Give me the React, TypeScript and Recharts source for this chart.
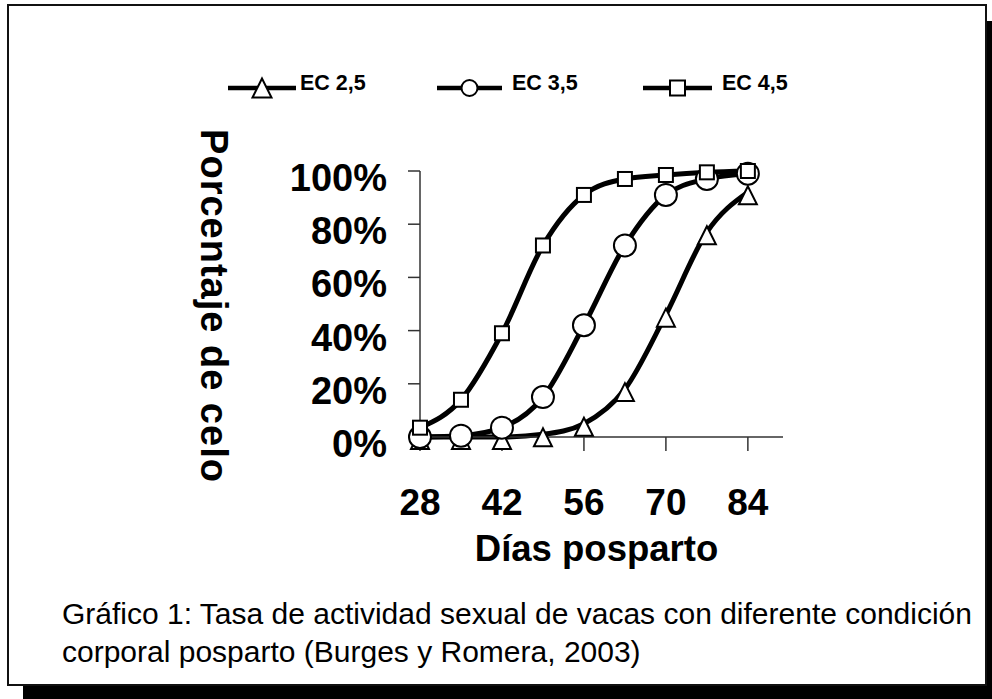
import React from "react";
import { LineChart, Line, XAxis, YAxis } from "recharts";

// días posparto
const days = [28, 35, 42, 49, 56, 63, 70, 77, 84];
// porcentaje de celo acumulado por condición corporal
const ec25 = [0, 0, 0, 1, 5, 18, 46, 77, 92];
const ec35 = [0, 0.5, 3.5, 15, 42, 72, 91, 97, 99];
const ec45 = [3.5, 14, 39, 72, 91, 97, 98.5, 99.5, 100];

const xTicks = [28, 42, 56, 70, 84];
const yTicks = [0, 20, 40, 60, 80, 100];

const series = [
  { key: "ec25", name: "EC 2,5", shape: "triangle" },
  { key: "ec35", name: "EC 3,5", shape: "circle" },
  { key: "ec45", name: "EC 4,5", shape: "square" },
];

const data = days.map((d, i) => ({
  day: d,
  ec25: ec25[i],
  ec35: ec35[i],
  ec45: ec45[i],
}));

const FONT = "'Liberation Sans', Arial, Helvetica, sans-serif";

function Marker({ shape, cx, cy, size, centroid }: any) {
  if (cx == null || cy == null) return null;
  if (shape === "circle") {
    return <circle cx={cx} cy={cy} r={size / 2} fill="#fff" stroke="#000" strokeWidth={2} />;
  }
  if (shape === "square") {
    return (
      <rect x={cx - size / 2} y={cy - size / 2} width={size} height={size} fill="#fff" stroke="#000" strokeWidth={2} />
    );
  }
  const w = size;
  const h = size;
  const top = centroid ? cy - h / 3 : cy - h / 2;
  const bot = top + h;
  return (
    <polygon
      points={`${cx},${top} ${cx - w / 2},${bot} ${cx + w / 2},${bot}`}
      fill="#fff"
      stroke="#000"
      strokeWidth={2}
    />
  );
}

const markerSize: Record<string, number> = { triangle: 18, circle: 22, square: 14 };

const YTick = ({ x, y, payload }: any) => (
  <text x={x} y={y} dy={20} textAnchor="end" fontSize={38} fontWeight="bold" fontFamily={FONT} fill="#000">
    {payload.value}%
  </text>
);

const XTick = ({ x, y, payload }: any) => (
  <text x={x} y={y} textAnchor="middle" fontSize={37} fontWeight="bold" fontFamily={FONT} fill="#000">
    {payload.value}
  </text>
);

const XTitle = ({ viewBox }: any) => (
  <text
    x={viewBox.x + viewBox.width / 2 - 5}
    y={561}
    textAnchor="middle"
    fontSize={36.5}
    fontWeight="bold"
    fontFamily={FONT}
    fill="#000"
  >
    Días posparto
  </text>
);

const YTitle = () => (
  <text
    transform="translate(201,306) rotate(90)"
    textAnchor="middle"
    fontSize={38}
    fontWeight="bold"
    letterSpacing={1}
    fontFamily={FONT}
    fill="#000"
  >
    Porcentaje de celo
  </text>
);

function LegendRow() {
  const items = [
    { lineX: [228, 296], text: 300 },
    { lineX: [437, 502], text: 512 },
    { lineX: [643, 712], text: 722 },
  ];
  const legendSize: Record<string, number> = { triangle: 19, circle: 16, square: 15 };
  return (
    <svg width={992} height={120} style={{ position: "absolute", left: 0, top: 0 }}>
      {series.map((s, i) => {
        const it = items[i];
        const cx = (it.lineX[0] + it.lineX[1]) / 2;
        return (
          <g key={s.key}>
            <line x1={it.lineX[0]} x2={it.lineX[1]} y1={88} y2={88} stroke="#000" strokeWidth={4.5} />
            <Marker shape={s.shape} cx={cx} cy={88} size={legendSize[s.shape]} />
            <text x={it.text} y={90} fontSize={21.5} fontWeight="bold" fontFamily={FONT} fill="#000">
              {s.name}
            </text>
          </g>
        );
      })}
    </svg>
  );
}

export default function App() {
  return (
    <div style={{ position: "absolute", left: 0, top: 0, width: 992, height: 699, overflow: "hidden", background: "#fff" }}>
      {/* sombra */}
      <div style={{ position: "absolute", left: 23, top: 21, width: 980, height: 682, background: "#000" }} />
      {/* marco */}
      <div
        style={{
          position: "absolute",
          left: 7,
          top: 4,
          width: 980,
          height: 682,
          boxSizing: "border-box",
          border: "2.5px solid #111",
          background: "#fff",
        }}
      />
      <div style={{ position: "absolute", left: 0, top: 0 }}>
        <LineChart width={992} height={699} data={data} margin={{ top: 171, right: 209, bottom: 232, left: 360 }}>
          <XAxis
            dataKey="day"
            type="number"
            domain={[28, 90]}
            ticks={xTicks}
            interval={0}
            height={30}
            axisLine={{ stroke: "#333", strokeWidth: 1.5 }}
            tickLine={{ stroke: "#333", strokeWidth: 1.5 }}
            tickSize={14}
            tickMargin={64}
            tick={<XTick />}
            label={<XTitle />}
          />
          <YAxis
            type="number"
            domain={[0, 100]}
            ticks={yTicks}
            interval={0}
            width={60}
            axisLine={{ stroke: "#333", strokeWidth: 1.5 }}
            tickLine={{ stroke: "#333", strokeWidth: 1.5 }}
            tickSize={12}
            tickMargin={21}
            tick={<YTick />}
            label={<YTitle />}
          />
          {series.map((s) => (
            <Line
              key={s.key}
              type="monotone"
              dataKey={s.key}
              name={s.name}
              stroke="#000"
              strokeWidth={5}
              isAnimationActive={false}
              activeDot={false}
              dot={(p: any) => (
                <Marker key={`${s.key}-${p.index}`} shape={s.shape} cx={p.cx} cy={p.cy} size={markerSize[s.shape]} centroid />
              )}
            />
          ))}
        </LineChart>
      </div>
      <LegendRow />
      <div
        style={{
          position: "absolute",
          left: 62,
          top: 595,
          fontFamily: FONT,
          fontSize: 30,
          lineHeight: "38px",
          color: "#000",
          whiteSpace: "nowrap",
        }}
      >
        Gráfico 1: Tasa de actividad sexual de vacas con diferente condición
        <br />
        corporal posparto (Burges y Romera, 2003)
      </div>
    </div>
  );
}
